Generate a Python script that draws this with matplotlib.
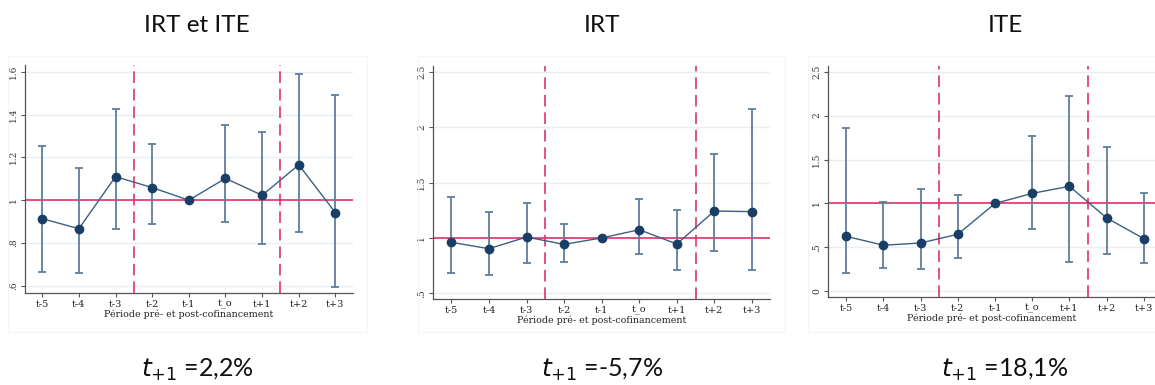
import matplotlib
matplotlib.use("Agg")
import matplotlib.pyplot as plt
from matplotlib.patches import Rectangle

periods = ["t-5", "t-4", "t-3", "t-2", "t-1", "t_o", "t+1", "t+2", "t+3"]

# IRT et ITE
est_all = [0.914, 0.867, 1.110, 1.059, 1.0, 1.102, 1.023, 1.165, 0.942]
hi_all = [1.255, 1.149, 1.424, 1.261, 1.0, 1.353, 1.317, 1.591, 1.493]
lo_all = [0.667, 0.659, 0.866, 0.888, 1.0, 0.897, 0.796, 0.853, 0.594]

# IRT
est_irt = [0.960, 0.903, 1.008, 0.942, 1.0, 1.074, 0.945, 1.243, 1.237]
hi_irt = [1.366, 1.237, 1.318, 1.129, 1.0, 1.351, 1.249, 1.754, 2.163]
lo_irt = [0.680, 0.662, 0.771, 0.783, 1.0, 0.852, 0.714, 0.885, 0.708]

# ITE
est_ite = [0.626, 0.524, 0.550, 0.649, 1.0, 1.115, 1.195, 0.835, 0.599]
hi_ite = [1.855, 1.017, 1.161, 1.093, 1.0, 1.764, 2.219, 1.639, 1.115]
lo_ite = [0.212, 0.269, 0.258, 0.383, 1.0, 0.706, 0.330, 0.429, 0.326]

titles = ["IRT et ITE", "IRT", "ITE"]
notes = ["$t_{+1}$ =2,2%", "$t_{+1}$ =-5,7%", "$t_{+1}$ =18,1%"]
yticks_all = [0.6, 0.8, 1.0, 1.2, 1.4, 1.6]
ylabels_all = [".6", ".8", "1", "1.2", "1.4", "1.6"]
yticks_25 = [0.5, 1.0, 1.5, 2.0, 2.5]
ylabels_25 = [".5", "1", "1.5", "2", "2.5"]
yticks_ite = [0, 0.5, 1.0, 1.5, 2.0, 2.5]
ylabels_ite = ["0", ".5", "1", "1.5", "2", "2.5"]

W, H = 1155, 385
fig = plt.figure(figsize=(W / 100, H / 100), dpi=100)

def rect(l, r, t, b):
    return [l / W, 1 - b / H, (r - l) / W, (b - t) / H]

navy = "#1a3f66"
bar_col = "#5f7e9c"
red = "#e0336a"
serif = "DejaVu Serif"

panels = [
    (est_all, hi_all, lo_all, rect(25, 353, 65, 293), (0.567, 1.631), (-0.47, 8.48), yticks_all, ylabels_all, 197),
    (est_irt, hi_irt, lo_irt, rect(433, 770, 66, 299), (0.449, 2.551), (-0.49, 8.48), yticks_25, ylabels_25, 602),
    (est_ite, hi_ite, lo_ite, rect(828, 1155, 66, 297), (-0.065, 2.565), (-0.49, 8.30), yticks_ite, ylabels_ite, 1005),
]
frames = [(8, 367), (418, 785), (808, 1160)]

for i, (est, hi, lo, r, ylim, xlim, yt, yl, cx) in enumerate(panels):
    # faint graph-region frame
    fl, fr = frames[i]
    fig.patches.append(Rectangle((fl / W, 1 - 332 / H), (fr - fl) / W, (332 - 56) / H,
                                 transform=fig.transFigure, fill=False,
                                 edgecolor="#f6f6f6", linewidth=1))
    ax = fig.add_axes(r)
    x = list(range(len(periods)))
    err = [[e - l for e, l in zip(est, lo)], [h - e for e, h in zip(est, hi)]]
    ax.errorbar(x, est, yerr=err, fmt="none", ecolor=bar_col, elinewidth=1.3,
                capsize=3, capthick=1.3, zorder=2)
    ax.plot(x, est, color="#3d5f82", linewidth=1, zorder=3)
    ax.plot(x, est, "o", color=navy, markersize=6, zorder=4)
    ax.axhline(1, color=red, linewidth=1.2, zorder=1)
    for xv in (2.5, 6.5):
        ax.axvline(xv, color=red, linewidth=1.2, dashes=(7, 3.5), zorder=1)
    ax.set_ylim(*ylim)
    ax.set_xlim(*xlim)
    ax.set_yticks(yt)
    ax.set_yticklabels(yl, rotation=90, va="center", fontsize=6.5, family=serif, color="#333333")
    ax.set_xticks(x)
    ax.set_xticklabels(periods, fontsize=7, family=serif, color="#222222")
    ax.grid(axis="y", color="#e8eff1", linewidth=1)
    ax.set_axisbelow(True)
    for s in ("top", "right"):
        ax.spines[s].set_visible(False)
    for s in ("left", "bottom"):
        ax.spines[s].set_color("#555555")
        ax.spines[s].set_linewidth(0.9)
    ax.tick_params(axis="both", length=3, width=0.8, color="#555555", pad=2)
    ax.set_xlabel("Période pré- et post-cofinancement", fontsize=6.8, family=serif,
                  labelpad=0, color="#222222")
    fig.text(cx / W, 1 - 25 / H, titles[i], ha="center", va="center",
             fontsize=17.5, family="Lato", color="#111111")
    fig.text(cx / W, 1 - 370 / H, notes[i], ha="center", va="center",
             fontsize=18, family="Lato", color="#111111")

fig.savefig("out.png", dpi=100)
